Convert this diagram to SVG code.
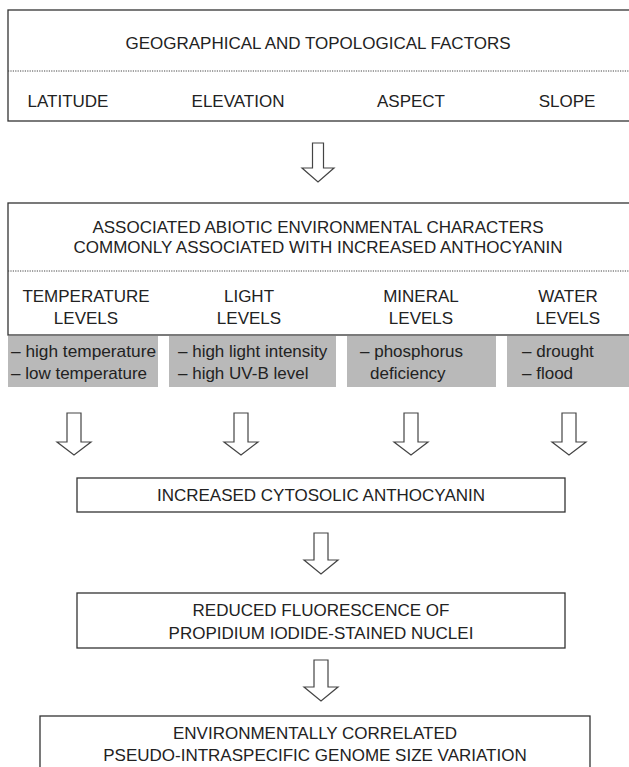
<svg xmlns="http://www.w3.org/2000/svg" width="629" height="767" viewBox="0 0 629 767">
<style>
.box{fill:#fff;stroke:#333;stroke-width:1.3}
.gray{fill:#b9b9b9;stroke:none}
.dot{stroke:#444;stroke-width:1;stroke-dasharray:1.2 1.2;fill:none}
.arrow{fill:#fff;stroke:#444;stroke-width:1.2;stroke-linejoin:miter}
text{font-family:"Liberation Sans",Arial,sans-serif;font-size:17px;fill:#222}
.c{text-anchor:middle}
</style>
<rect width="629" height="767" fill="#fff"/>
<g id="geo">
<rect class="box" x="8" y="10" width="630" height="111"/>
<line class="dot" x1="8" y1="71" x2="629" y2="71"/>
<text class="c" x="318" y="49">GEOGRAPHICAL AND TOPOLOGICAL FACTORS</text>
<text class="c" x="68" y="107">LATITUDE</text>
<text class="c" x="238" y="107">ELEVATION</text>
<text class="c" x="411" y="107">ASPECT</text>
<text class="c" x="567" y="107">SLOPE</text>
</g>
<g id="abiotic">
<rect class="box" x="8" y="203" width="630" height="132"/>
<text class="c" x="318" y="233">ASSOCIATED ABIOTIC ENVIRONMENTAL CHARACTERS</text>
<text class="c" x="318" y="253">COMMONLY ASSOCIATED WITH INCREASED ANTHOCYANIN</text>
<line class="dot" x1="8" y1="271" x2="629" y2="271"/>
<text class="c" x="86" y="302">TEMPERATURE</text>
<text class="c" x="86" y="324">LEVELS</text>
<text class="c" x="249" y="302">LIGHT</text>
<text class="c" x="249" y="324">LEVELS</text>
<text class="c" x="421" y="302">MINERAL</text>
<text class="c" x="421" y="324">LEVELS</text>
<text class="c" x="568" y="302">WATER</text>
<text class="c" x="568" y="324">LEVELS</text>
</g>
<g id="temperature">
<rect class="gray" x="8" y="336" width="150" height="51"/>
<text x="11" y="357" textLength="145" lengthAdjust="spacingAndGlyphs">– high temperature</text>
<text x="11" y="379">– low temperature</text>
</g>
<g id="light">
<rect class="gray" x="169" y="336" width="167" height="51"/>
<text x="178" y="357">– high light intensity</text>
<text x="178" y="379">– high UV-B level</text>
</g>
<g id="mineral">
<rect class="gray" x="347" y="336" width="149" height="51"/>
<text x="360" y="357">– phosphorus</text>
<text x="370" y="379">deficiency</text>
</g>
<g id="water">
<rect class="gray" x="507" y="336" width="122" height="51"/>
<text x="522" y="357">– drought</text>
<text x="522" y="379">– flood</text>
</g>
<g id="cytosolic">
<rect class="box" x="77" y="478" width="488" height="34"/>
<text class="c" x="321" y="501">INCREASED  CYTOSOLIC ANTHOCYANIN</text>
</g>
<g id="fluorescence">
<rect class="box" x="77" y="593" width="488" height="55"/>
<text class="c" x="321" y="616">REDUCED FLUORESCENCE OF</text>
<text class="c" x="321" y="639">PROPIDIUM IODIDE-STAINED NUCLEI</text>
</g>
<g id="genome">
<rect class="box" x="40" y="716" width="550" height="70"/>
<text class="c" x="315" y="739">ENVIRONMENTALLY CORRELATED</text>
<text class="c" x="315" y="761">PSEUDO-INTRASPECIFIC GENOME SIZE VARIATION</text>
</g>
<g id="connectors">
<path class="arrow" d="M312.5,143 H323.5 V168 H334 L318,182 L302,168 H312.5 Z"/>
<path class="arrow" d="M67,413 H81 V442 H91 L74,455 L57,442 H67 Z"/>
<path class="arrow" d="M234,413 H248 V442 H258 L241,455 L224,442 H234 Z"/>
<path class="arrow" d="M404,413 H418 V442 H428 L411,455 L394,442 H404 Z"/>
<path class="arrow" d="M562,413 H576 V442 H586 L569,455 L552,442 H562 Z"/>
<path class="arrow" d="M314,533 H328 V560 H338 L321,574 L304,560 H314 Z"/>
<path class="arrow" d="M314,660 H328 V687 H338 L321,701 L304,687 H314 Z"/>
</g>
</svg>
